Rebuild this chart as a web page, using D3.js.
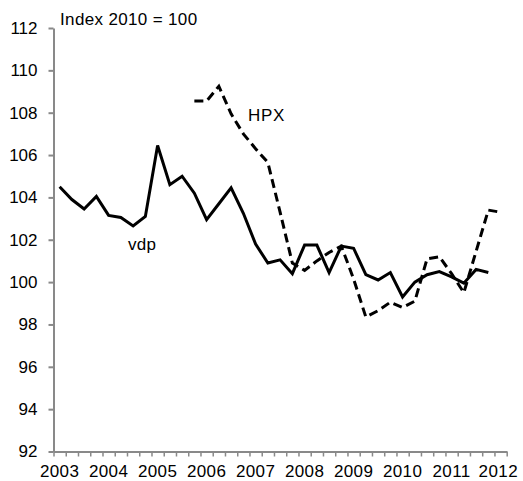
<!DOCTYPE html>
<meta charset="utf-8">
<script src="https://d3js.org/d3.v7.min.js"></script>
<style>
    body { margin: 0; background: #fff; }
    text { font-family: "Liberation Sans", Arial, sans-serif; fill: #000; }
</style>
<div id="chart"></div>
<script>
// quarterly data, 2003Q1 .. 2012Q1 (37 quarters)
const years = [2003, 2004, 2005, 2006, 2007, 2008, 2009, 2010, 2011, 2012];
const yTicks = [92, 94, 96, 98, 100, 102, 104, 106, 108, 110, 112];
const vdp = [104.5, 103.9, 103.45, 104.05, 103.15, 103.05, 102.65, 103.1,
             106.45, 104.6, 105.0, 104.2, 102.95, 103.7, 104.45, 103.25,
             101.8, 100.9, 101.05, 100.4, 101.75, 101.75, 100.45, 101.7,
             101.6, 100.35, 100.1, 100.45, 99.3, 100.0, 100.35, 100.5,
             100.25, 99.95, 100.6, 100.45];
// HPX starts in 2005Q4
const hpxStart = 11;
const hpx = [108.55, 108.55, 109.25, 107.95, 107.0, 106.3, 105.65, 103.3,
             100.9, 100.55, 101.0, 101.4, 101.7, 100.15, 98.35, 98.65,
             99.05, 98.8, 99.1, 101.1, 101.2, 100.4, 99.5, 101.45,
             103.4, 103.3];
const nQuarters = 37;

const W = 523, H = 481;
const margin = {left: 53.5, right: 506.7, top: 28, bottom: 451.5};

const svg = d3.select("#chart")
    .append("svg")
    .attr("width", W)
    .attr("height", H);

const x = d3.scaleLinear()
    .domain([0, nQuarters])
    .range([margin.left, margin.right]);

const y = d3.scaleLinear()
    .domain([92, 112])
    .range([margin.bottom, margin.top]);

const axisColor = "#898989";

// y axis
const yAxis = svg.append("g")
    .attr("transform", `translate(${margin.left},0)`)
    .call(d3.axisLeft(y).tickValues(yTicks).tickSize(5).tickSizeOuter(0).tickPadding(11));
yAxis.select(".domain").attr("stroke", axisColor).attr("stroke-width", 2);
yAxis.selectAll(".tick line").attr("stroke", axisColor).attr("stroke-width", 2);
yAxis.selectAll(".tick text")
    .attr("font-size", "17px")
    .attr("font-family", "Liberation Sans, Arial, sans-serif")
    .attr("fill", "#000");

// x axis: tick at every quarter boundary, labels in the first quarter of each year
const xAxis = svg.append("g")
    .attr("transform", `translate(0,${margin.bottom})`)
    .call(d3.axisBottom(x).tickValues(d3.range(0, nQuarters + 1)).tickSize(5).tickSizeOuter(0).tickFormat(""));
xAxis.select(".domain").attr("stroke", axisColor).attr("stroke-width", 2);
xAxis.selectAll(".tick line").attr("stroke", axisColor).attr("stroke-width", 1.5);

const yearLabels = svg.append("g")
    .selectAll("text")
    .data(years)
    .join("text")
    .attr("x", (d, i) => x(i * 4 + 0.5))
    .attr("y", 477)
    .attr("text-anchor", "middle")
    .attr("font-size", "17px")
    .attr("letter-spacing", "0.4px")
    .text(d => d);

// keep the last label inside the picture
yearLabels.each(function() {
    const w = this.getComputedTextLength();
    const cx = +d3.select(this).attr("x");
    if (cx + w / 2 > W - 5) d3.select(this).attr("x", W - 5 - w / 2);
});

const line = d3.line()
    .x(d => x(d.q + 0.5))
    .y(d => y(d.v));

const vdpPts = vdp.map((v, i) => ({q: i, v: v}));
const hpxPts = hpx.map((v, i) => ({q: i + hpxStart, v: v}));

svg.append("path")
    .datum(vdpPts)
    .attr("d", line)
    .attr("fill", "none")
    .attr("stroke", "#000")
    .attr("stroke-width", 3);

svg.append("path")
    .datum(hpxPts)
    .attr("d", line)
    .attr("fill", "none")
    .attr("stroke", "#000")
    .attr("stroke-width", 3)
    .attr("stroke-dasharray", "9,5");

// labels
svg.append("text")
    .text("Index 2010 = 100")
    .attr("x", 60)
    .attr("y", 25)
    .attr("font-size", "17px")
    .attr("letter-spacing", "0.35px");

svg.append("text")
    .text("HPX")
    .attr("x", 248)
    .attr("y", 120.5)
    .attr("font-size", "17px")
    .attr("letter-spacing", "0.7px");

svg.append("text")
    .text("vdp")
    .attr("x", 128)
    .attr("y", 250)
    .attr("font-size", "17px")
    .attr("letter-spacing", "0.3px");
</script>
